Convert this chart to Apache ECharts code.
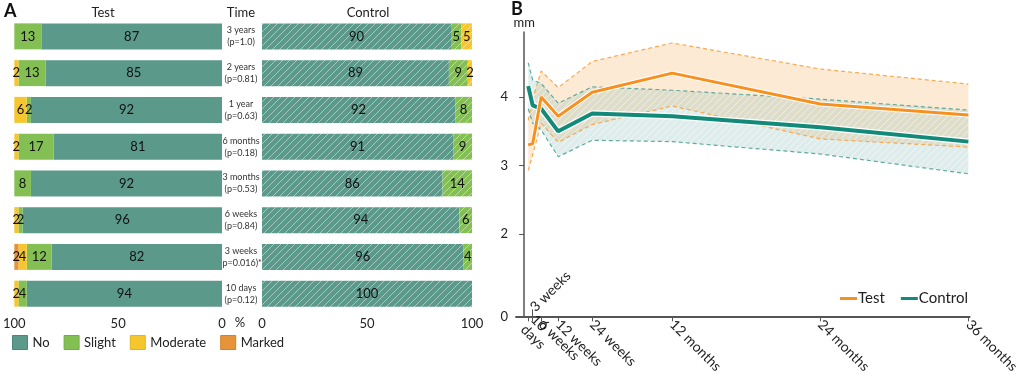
<!DOCTYPE html>
<html>
<head>
<meta charset="utf-8">
<script src="https://cdn.jsdelivr.net/npm/echarts@6/dist/echarts.min.js"></script>
<style>
html, body { margin: 0; padding: 0; background: #fff; }
#chart { width: 1022px; height: 376px; }
</style>
</head>
<body>
<div id="chart"></div>
<script>
// ---- panel A: reaction grade per visit (%)
const timePoints = ['3 years', '2 years', '1 year', '6 months', '3 months', '6 weeks', '3 weeks', '10 days']
const pValues = ['(p=1.0)', '(p=0.81)', '(p=0.63)', '(p=0.18)', '(p=0.53)', '(p=0.84)', '(p=0.016)*', '(p=0.12)']
const testNo = [87, 85, 92, 81, 92, 96, 82, 94]
const testSlight = [13, 13, 2, 17, 8, 2, 12, 4]
const testModerate = [0, 2, 6, 2, 0, 2, 4, 2]
const testMarked = [0, 0, 0, 0, 0, 0, 2, 0]
const controlNo = [90, 89, 92, 91, 86, 94, 96, 100]
const controlSlight = [5, 9, 8, 9, 14, 6, 4, 0]
const controlModerate = [5, 2, 0, 0, 0, 0, 0, 0]

// ---- panel B: mm over time (x in months)
const visitMonths = [0.33, 0.69, 1.38, 2.76, 5.52, 12, 24, 36]
const visitLabels = ['10\ndays', '3 weeks', '6 weeks', '12 weeks', '24 weeks', '12 months', '24 months', '36 months']
const testMean = [3.30, 3.32, 4.00, 3.72, 4.07, 4.35, 3.90, 3.74]
const testUpper = [3.66, 3.97, 4.38, 4.14, 4.52, 4.79, 4.41, 4.19]
const testLower = [2.93, 3.16, 3.62, 3.34, 3.60, 3.87, 3.39, 3.27]
const controlMean = [4.16, 3.88, 3.83, 3.50, 3.76, 3.72, 3.56, 3.35]
const controlUpper = [4.50, 4.25, 4.20, 3.91, 4.15, 4.10, 3.97, 3.81]
const controlLower = [3.83, 3.62, 3.52, 3.13, 3.37, 3.35, 3.17, 2.88]
const yBottom = 0.8   // axis is cut: bottom of the axis is labelled 0
const yTicks = [yBottom, 2, 3, 4]

const FONT = 'Lato'

// diagonal hatch pattern
function hatch (bg, stroke, size) {
  const c = document.createElement('canvas')
  c.width = c.height = size
  const ctx = c.getContext('2d')
  ctx.fillStyle = bg
  ctx.fillRect(0, 0, size, size)
  ctx.strokeStyle = stroke
  ctx.lineWidth = 1
  ctx.beginPath()
  ctx.moveTo(0, size); ctx.lineTo(size, 0)
  ctx.moveTo(-size / 2, size / 2); ctx.lineTo(size / 2, -size / 2)
  ctx.moveTo(size / 2, size * 1.5); ctx.lineTo(size * 1.5, size / 2)
  ctx.stroke()
  return { image: c, repeat: 'repeat' }
}

const colors = { no: '#5b998b', slight: '#84bf54', moderate: '#f6c62e', marked: '#e5943a' }
const borders = { no: '#4a8679', slight: '#6fae43', moderate: '#e3b41e', marked: '#d2822a' }

function barSeries (name, data, stack, idx, color) {
  return {
    name: name,
    type: 'bar',
    stack: stack,
    xAxisIndex: idx,
    yAxisIndex: idx,
    data: data,
    barWidth: 26,
    silent: true,
    itemStyle: { color: color },
    label: {
      show: true,
      position: 'inside',
      color: '#111',
      fontSize: 13,
      fontFamily: FONT,
      formatter: p => (p.value ? p.value : '')
    }
  }
}

function bandItem (lower, upper, fill) {
  return function (params, api) {
    if (params.dataIndex !== 0) return null
    const pts = []
    for (let i = 0; i < visitMonths.length; i++) pts.push(api.coord([visitMonths[i], upper[i]]))
    for (let i = visitMonths.length - 1; i >= 0; i--) pts.push(api.coord([visitMonths[i], lower[i]]))
    return { type: 'polygon', shape: { points: pts }, style: { fill: fill } }
  }
}

function pairs (ys) {
  return visitMonths.map((m, i) => [m, ys[i]])
}

function lineSeries (name, ys, color, width, dashed) {
  return {
    name: name,
    type: 'line',
    xAxisIndex: 2,
    yAxisIndex: 2,
    data: pairs(ys),
    symbol: 'none',
    silent: true,
    itemStyle: { color: color },
    lineStyle: { color: color, width: width, type: dashed ? [4, 3] : 'solid' },
    z: 3
  }
}

// an extra time axis on the same grid, carrying a single label
// (the early visits sit so close that echarts would drop some of them)
function labelAxis (idx, inside, rotate) {
  const v = visitMonths[idx]
  return {
    gridIndex: 2, type: 'value', min: -0.66, max: 36.1, position: 'bottom',
    axisLine: { show: false, onZero: false },
    splitLine: { show: false },
    axisTick: { show: inside, inside: true, length: 7, lineStyle: { color: '#555' }, customValues: [v] },
    axisLabel: {
      inside: inside,
      customValues: [v],
      showMinLabel: true,
      showMaxLabel: true,
      rotate: rotate,
      margin: inside ? 7 : 6,
      fontSize: 14,
      lineHeight: 14,
      color: '#222',
      fontFamily: FONT,
      formatter: () => visitLabels[idx]
    }
  }
}

const chart = echarts.init(document.getElementById('chart'))

const barAxisLabel = { fontSize: 13, color: '#222', margin: 5, fontFamily: FONT }
const barAxisLine = { lineStyle: { color: '#555', width: 2 } }

const legendItem = (name, key) => ({ name: name, itemStyle: { color: colors[key], borderColor: borders[key], borderWidth: 1 } })

const option = {
  animation: false,
  textStyle: { fontFamily: FONT },
  graphic: [
    { type: 'text', x: 4, y: 2, style: { text: 'A', font: 'bold 18px ' + FONT, fill: '#111' } },
    { type: 'text', x: 511, y: 0, style: { text: 'B', font: 'bold 18px ' + FONT, fill: '#111' } },
    { type: 'text', x: 103, y: 13, style: { text: 'Test', font: '13px ' + FONT, fill: '#222', textAlign: 'center', textVerticalAlign: 'middle' } },
    { type: 'text', x: 241, y: 13, style: { text: 'Time', font: '13px ' + FONT, fill: '#222', textAlign: 'center', textVerticalAlign: 'middle' } },
    { type: 'text', x: 368, y: 13, style: { text: 'Control', font: '13px ' + FONT, fill: '#222', textAlign: 'center', textVerticalAlign: 'middle' } },
    { type: 'text', x: 240, y: 323, style: { text: '%', font: '13px ' + FONT, fill: '#222', textAlign: 'center', textVerticalAlign: 'middle' } }
  ],
  legend: [
    {
      left: 12,
      top: 335,
      padding: 0,
      icon: 'rect',
      itemWidth: 15,
      itemHeight: 14,
      itemGap: 14,
      textStyle: { fontSize: 13, color: '#222', fontFamily: FONT },
      data: [legendItem('No', 'no'), legendItem('Slight', 'slight'), legendItem('Moderate', 'moderate'), legendItem('Marked', 'marked')],
      selectedMode: false
    },
    {
      left: 840,
      top: 291,
      padding: 0,
      icon: 'rect',
      itemWidth: 17,
      itemHeight: 3,
      itemGap: 16,
      textStyle: { fontSize: 15, color: '#222', fontFamily: FONT, padding: [0, 0, 0, -4] },
      data: ['Test', 'Control'],
      selectedMode: false
    }
  ],
  grid: [
    { left: 12, top: 18, width: 210, height: 294 },
    { left: 262, top: 18, width: 210, height: 294 },
    { left: 516, top: 32, right: 46, bottom: 59 }
  ],
  xAxis: [
    {
      gridIndex: 0, type: 'value', min: 0, max: 100, interval: 50, inverse: true,
      axisLine: barAxisLine, axisTick: { show: false }, splitLine: { show: false }, axisLabel: barAxisLabel
    },
    {
      gridIndex: 1, type: 'value', min: 0, max: 100, interval: 50,
      axisLine: barAxisLine, axisTick: { show: false }, splitLine: { show: false }, axisLabel: barAxisLabel
    },
    {
      gridIndex: 2, type: 'value', min: -0.66, max: 36.1, position: 'bottom',
      axisLine: { onZero: false, lineStyle: { color: '#555', width: 2 } },
      splitLine: { show: false },
      axisTick: { show: true, length: 5, lineStyle: { color: '#555' }, customValues: visitMonths },
      axisLabel: {
        customValues: visitMonths.slice(4),
        showMinLabel: true,
        showMaxLabel: true,
        rotate: -45,
        margin: 6,
        fontSize: 14,
        color: '#222',
        fontFamily: FONT,
        formatter: v => visitLabels[visitMonths.indexOf(v)]
      }
    },
    labelAxis(0, false, -45),
    labelAxis(1, true, 45),
    labelAxis(2, false, -45),
    labelAxis(3, false, -45)
  ],
  yAxis: [
    {
      gridIndex: 0, type: 'category', data: timePoints, inverse: true,
      axisLine: { show: false }, axisTick: { show: false }, axisLabel: { show: false }
    },
    {
      gridIndex: 1, type: 'category', data: timePoints, inverse: true,
      axisLine: { show: false }, axisTick: { show: false },
      axisLabel: {
        align: 'center',
        margin: 21,
        fontSize: 9,
        lineHeight: 12,
        color: '#333',
        fontFamily: FONT,
        formatter: (v, i) => v + '\n' + pValues[i]
      }
    },
    {
      gridIndex: 2, type: 'value', min: yBottom, max: 4.95,
      name: 'mm', nameLocation: 'end', nameGap: 3,
      nameTextStyle: { fontSize: 13, color: '#222', fontFamily: FONT },
      axisLine: { show: true, lineStyle: { color: '#555', width: 1.5 } },
      splitLine: { show: false },
      axisTick: { show: true, length: 5, lineStyle: { color: '#555' }, customValues: yTicks },
      axisLabel: {
        customValues: yTicks,
        showMinLabel: true,
        margin: 8,
        fontSize: 13,
        color: '#222',
        fontFamily: FONT,
        formatter: v => (v === yBottom ? '0' : String(v))
      }
    }
  ],
  series: [
    barSeries('No', testNo, 'test', 0, colors.no),
    barSeries('Slight', testSlight, 'test', 0, colors.slight),
    barSeries('Moderate', testModerate, 'test', 0, colors.moderate),
    barSeries('Marked', testMarked, 'test', 0, colors.marked),
    barSeries('No', controlNo, 'control', 1, hatch(colors.no, 'rgba(255,255,255,0.45)', 7)),
    barSeries('Slight', controlSlight, 'control', 1, hatch(colors.slight, 'rgba(255,255,255,0.45)', 7)),
    barSeries('Moderate', controlModerate, 'control', 1, hatch(colors.moderate, 'rgba(255,255,255,0.45)', 7)),
    {
      name: 'Test band',
      type: 'custom',
      xAxisIndex: 2,
      yAxisIndex: 2,
      silent: true,
      data: visitMonths.map((m, i) => [m, testLower[i], testUpper[i]]),
      encode: { x: 0, y: [1, 2] },
      renderItem: bandItem(testLower, testUpper, 'rgba(247,150,40,0.2)'),
      z: 1
    },
    {
      name: 'Control band',
      type: 'custom',
      xAxisIndex: 2,
      yAxisIndex: 2,
      silent: true,
      data: visitMonths.map((m, i) => [m, controlLower[i], controlUpper[i]]),
      encode: { x: 0, y: [1, 2] },
      renderItem: bandItem(controlLower, controlUpper, hatch('rgba(90,165,155,0.2)', 'rgba(255,255,255,0.55)', 7)),
      z: 1
    },
    lineSeries('Test upper', testUpper, '#f8a94f', 1.2, true),
    lineSeries('Test lower', testLower, '#f8a94f', 1.2, true),
    lineSeries('Control upper', controlUpper, '#5eab9f', 1.2, true),
    lineSeries('Control lower', controlLower, '#5eab9f', 1.2, true),
    lineSeries('Control outline', controlMean, '#ffffff', 6.5, false),
    lineSeries('Control', controlMean, '#128a79', 4, false),
    lineSeries('Test outline', testMean, '#ffffff', 5, false),
    lineSeries('Test', testMean, '#f7901e', 3, false)
  ]
}

chart.setOption(option)
window.addEventListener('resize', () => chart.resize())
</script>
</body>
</html>
